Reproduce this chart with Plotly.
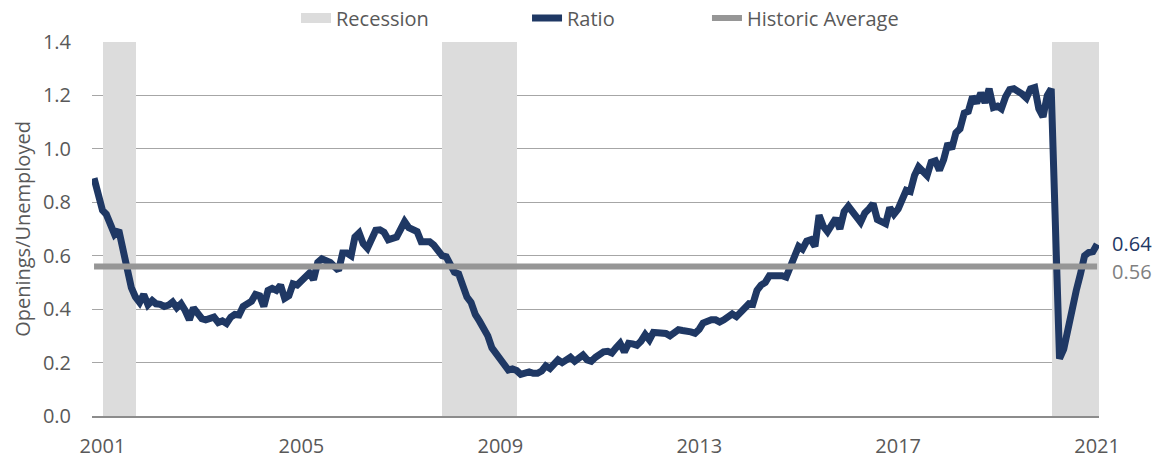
import pandas as pd
import plotly.graph_objects as go

# ---------------- data ----------------
start_month = "2000-12-01"   # first monthly observation
ratio = [
    0.89,
    0.82, 0.77, 0.755, 0.72, 0.68, 0.695, 0.62, 0.567, 0.48, 0.446, 0.425, 0.455,
    0.416, 0.432, 0.42, 0.418, 0.41, 0.415, 0.427, 0.405, 0.42, 0.395, 0.36, 0.405,
    0.385, 0.364, 0.36, 0.366, 0.37, 0.35, 0.356, 0.346, 0.37, 0.38, 0.378, 0.41,
    0.42, 0.43, 0.455, 0.45, 0.41, 0.47, 0.478, 0.47, 0.49, 0.44, 0.45, 0.495,
    0.49, 0.505, 0.525, 0.535, 0.51, 0.575, 0.588, 0.583, 0.575, 0.56, 0.545, 0.61,
    0.61, 0.6, 0.67, 0.685, 0.645, 0.628, 0.66, 0.695, 0.697, 0.688, 0.66, 0.665,
    0.67, 0.7, 0.728, 0.705, 0.698, 0.69, 0.652, 0.652, 0.652, 0.64, 0.615, 0.6,
    0.596, 0.56, 0.538, 0.532, 0.48, 0.445, 0.425, 0.38, 0.355, 0.33, 0.3, 0.255,
    0.235, 0.215, 0.19, 0.172, 0.176, 0.17, 0.156, 0.162, 0.165, 0.16, 0.16, 0.168,
    0.188, 0.178, 0.19, 0.21, 0.2, 0.21, 0.22, 0.205, 0.215, 0.228, 0.21, 0.205,
    0.22, 0.235, 0.24, 0.242, 0.236, 0.255, 0.272, 0.24, 0.272, 0.27, 0.265, 0.28,
    0.305, 0.285, 0.313, 0.312, 0.31, 0.309, 0.3, 0.31, 0.323, 0.32, 0.319, 0.315,
    0.31, 0.325, 0.348, 0.355, 0.36, 0.36, 0.352, 0.36, 0.369, 0.382, 0.372, 0.39,
    0.403, 0.42, 0.418, 0.47, 0.49, 0.5, 0.525, 0.525, 0.53, 0.525, 0.52, 0.56,
    0.605, 0.635, 0.625, 0.655, 0.66, 0.635, 0.752, 0.71, 0.69, 0.71, 0.74, 0.7,
    0.765, 0.785, 0.77, 0.745, 0.725, 0.76, 0.775, 0.795, 0.735, 0.727, 0.72, 0.78,
    0.755, 0.775, 0.805, 0.845, 0.84, 0.9, 0.932, 0.915, 0.9, 0.95, 0.955, 0.92,
    0.96, 1.02, 1.0, 1.06, 1.075, 1.134, 1.14, 1.195, 1.172, 1.209, 1.173, 1.225,
    1.155, 1.16, 1.15, 1.195, 1.222, 1.225, 1.218, 1.205, 1.19, 1.225, 1.23, 1.15,
    1.12, 1.2, 1.225, 0.72, 0.215, 0.25, 0.33, 0.41, 0.47, 0.53, 0.6, 0.612,
    0.615, 0.643,
]
historic_average = 0.56
recession_start = ["2001-02-06", "2007-11-28", "2020-03-07"]
recession_end = ["2001-10-05", "2009-06-01", "2021-02-15"]
tick_dates = ["2001-02-01", "2005-02-01", "2009-02-01", "2013-02-01", "2017-02-01", "2021-02-01"]
tick_labels = ["2001", "2005", "2009", "2013", "2017", "2021"]
y_max = 1.4

# ---------------- styles ----------------
NAVY = "#1F3864"
AVG_GRAY = "#969696"
REC_GRAY = "#DCDCDC"
TEXT_GRAY = "#595959"
FONT = "Open Sans"

months = pd.date_range(start_month, periods=len(ratio), freq="MS")
rs = pd.to_datetime(recession_start)
re_ = pd.to_datetime(recession_end)
rec_mid = rs + (re_ - rs) / 2
rec_width = [(e - s).total_seconds() * 1000 for s, e in zip(rs, re_)]

fig = go.Figure()

fig.add_trace(go.Bar(
    x=rec_mid, y=[y_max] * len(rs), width=rec_width,
    marker=dict(color=REC_GRAY, line=dict(width=0)),
    showlegend=False, hoverinfo="skip",
))
# legend entry for recession shading
fig.add_trace(go.Scatter(
    x=[None], y=[None], mode="lines", name="Recession",
    line=dict(color=REC_GRAY, width=15), legend="legend",
))
fig.add_trace(go.Scatter(
    x=months, y=ratio, mode="lines", name="Ratio",
    line=dict(color=NAVY, width=7), legend="legend2",
))
fig.add_trace(go.Scatter(
    x=months, y=[historic_average] * len(months), mode="lines", name="Historic Average",
    line=dict(color=AVG_GRAY, width=6), legend="legend3",
))

fig.add_annotation(x=months[-1], y=ratio[-1], text=f"{ratio[-1]:.2f}", showarrow=False,
                   xanchor="left", yanchor="middle", xshift=13, yshift=1,
                   font=dict(family=FONT, size=20, color=NAVY))
fig.add_annotation(x=months[-1], y=historic_average, text=f"{historic_average:.2f}", showarrow=False,
                   xanchor="left", yanchor="middle", xshift=13, yshift=-5,
                   font=dict(family=FONT, size=20, color="#808080"))

leg_common = dict(orientation="h", yanchor="middle", xanchor="left", y=1.064,
                  bgcolor="rgba(0,0,0,0)", font=dict(family=FONT, size=20, color=TEXT_GRAY))

fig.update_layout(
    width=1158, height=460,
    margin=dict(l=92, r=59, t=42, b=44, autoexpand=False),
    plot_bgcolor="white", paper_bgcolor="white",
    font=dict(family=FONT, size=20, color=TEXT_GRAY),
    bargap=0,
    legend=dict(x=0.2026, **leg_common),
    legend2=dict(x=0.432, **leg_common),
    legend3=dict(x=0.6107, **leg_common),
    xaxis=dict(
        type="date", range=["2000-11-16", "2021-02-15"],
        tickvals=tick_dates, ticktext=tick_labels,
        showgrid=False, zeroline=False, automargin=False,
        showline=True, linecolor="#8C8C8C", linewidth=2,
        ticks="", ticklabelstandoff=11,
        tickfont=dict(family=FONT, size=20, color=TEXT_GRAY),
    ),
    yaxis=dict(
        range=[0, y_max], dtick=0.2, tickformat=".1f",
        showgrid=True, gridcolor="#A6A6A6", gridwidth=1,
        zeroline=False, showline=False, ticks="", automargin=False,
        ticklabelstandoff=20,
        tickfont=dict(family=FONT, size=20, color=TEXT_GRAY),
        title=dict(text="Openings/Unemployed", standoff=6,
                   font=dict(family=FONT, size=20, color=TEXT_GRAY)),
    ),
)

fig.write_html("out.html", config={"displayModeBar": False},
               post_script="document.body.style.margin='0';document.body.style.overflow='hidden';")
